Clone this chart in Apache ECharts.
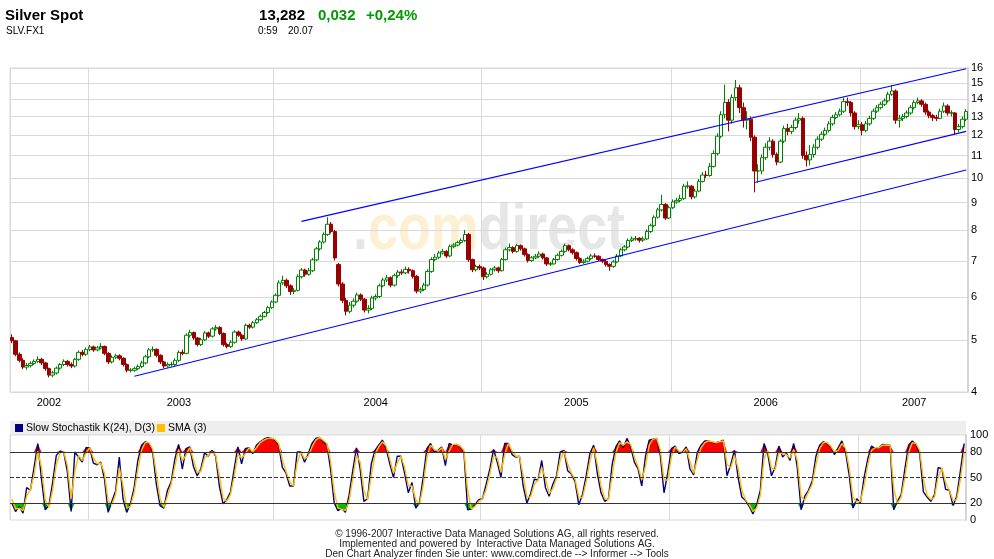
<!DOCTYPE html>
<html><head><meta charset="utf-8">
<script src="https://cdn.jsdelivr.net/npm/echarts@6/dist/echarts.min.js"></script>
<style>html,body{margin:0;padding:0;background:#fff}#c{width:994px;height:559px}</style>
</head><body><div id="c"></div><script>
// ---------- data ----------
const years = [2002, 2003, 2004, 2005, 2006, 2007];
const weeksPerYear = [21, 50, 56, 51, 51, 29];
const priceTicks = [4, 5, 6, 7, 8, 9, 10, 11, 12, 13, 14, 15, 16];
const stochTicks = [0, 20, 50, 80, 100];
const stochLevels = [20, 50, 80];

const opens = [
5.05,4.98,4.70,4.58,4.45,4.48,4.52,4.56,4.60,4.53,
4.42,4.30,4.34,4.43,4.50,4.56,4.50,4.47,4.60,4.74,
4.70,4.80,4.85,4.79,4.83,4.86,4.72,4.55,4.64,4.67,
4.62,4.50,4.39,4.39,4.42,4.46,4.53,4.65,4.79,4.80,
4.68,4.55,4.47,4.50,4.50,4.58,4.74,4.72,5.10,5.16,
5.04,4.90,5.00,5.15,5.08,5.24,5.27,5.14,4.90,4.86,
4.95,5.17,5.10,5.02,5.32,5.28,5.38,5.45,5.53,5.62,
5.74,5.88,6.05,6.38,6.45,6.30,6.15,6.18,6.55,6.74,
6.62,6.72,7.04,7.38,7.60,7.85,8.20,7.95,6.90,6.35,
5.92,5.65,5.80,5.90,6.06,5.95,5.68,5.72,5.98,6.02,
6.30,6.46,6.52,6.32,6.58,6.68,6.66,6.76,6.72,6.56,
6.16,6.20,6.32,6.70,7.05,7.12,7.25,7.30,7.16,7.45,
7.50,7.58,7.65,7.85,7.05,6.75,6.84,6.80,6.55,6.62,
6.75,6.80,6.72,7.05,7.35,7.42,7.30,7.48,7.38,7.20,
7.02,7.10,7.15,7.22,7.10,6.92,6.92,7.05,7.18,7.30,
7.48,7.35,7.26,7.08,6.96,7.00,7.08,7.16,7.15,7.05,
7.00,6.90,6.85,6.98,7.16,7.35,7.44,7.65,7.70,7.72,
7.66,7.70,7.95,8.15,8.45,8.72,8.92,8.42,8.80,9.02,
9.08,9.15,9.65,9.65,9.22,9.45,9.85,10.12,10.10,10.50,
11.10,11.95,13.10,13.80,12.80,14.10,14.70,13.50,12.80,12.85,
11.90,10.30,10.30,10.90,11.40,11.70,11.05,10.70,11.70,12.35,
12.20,12.40,12.80,12.90,11.00,10.80,11.05,11.40,11.80,12.05,
12.25,12.60,12.95,13.10,13.30,13.85,13.80,13.20,12.45,12.55,
12.25,12.60,12.90,13.30,13.50,13.70,13.90,14.30,14.50,12.80,
12.90,13.00,13.20,13.50,13.80,13.90,13.70,13.25,13.05,12.95,
12.90,13.30,13.60,13.20,13.20,12.30,12.45,12.85];

const closes = [
4.98,4.70,4.58,4.45,4.48,4.52,4.56,4.60,4.53,4.42,
4.30,4.34,4.43,4.50,4.56,4.50,4.47,4.60,4.74,4.70,
4.80,4.85,4.79,4.83,4.86,4.72,4.55,4.64,4.67,4.62,
4.50,4.39,4.39,4.42,4.46,4.53,4.65,4.79,4.80,4.68,
4.55,4.47,4.50,4.50,4.58,4.74,4.72,5.10,5.16,5.04,
4.90,5.00,5.15,5.08,5.24,5.27,5.14,4.90,4.86,4.95,
5.17,5.10,5.02,5.32,5.28,5.38,5.45,5.53,5.62,5.74,
5.88,6.05,6.38,6.45,6.30,6.15,6.18,6.55,6.74,6.62,
6.72,7.04,7.38,7.60,7.85,8.20,7.95,7.10,6.35,5.92,
5.65,5.80,5.90,6.06,5.95,5.68,5.72,5.98,6.02,6.30,
6.46,6.52,6.32,6.58,6.68,6.66,6.76,6.72,6.56,6.16,
6.20,6.32,6.70,7.05,7.12,7.25,7.30,7.16,7.45,7.50,
7.58,7.65,7.85,7.05,6.75,6.84,6.80,6.55,6.62,6.75,
6.80,6.72,7.05,7.35,7.42,7.30,7.48,7.38,7.20,7.02,
7.10,7.15,7.22,7.10,6.92,6.92,7.05,7.18,7.30,7.48,
7.35,7.26,7.08,6.96,7.00,7.08,7.16,7.15,7.05,7.00,
6.90,6.85,6.98,7.16,7.35,7.44,7.65,7.70,7.72,7.66,
7.70,7.95,8.15,8.45,8.72,8.92,8.42,8.80,9.02,9.08,
9.15,9.65,9.65,9.22,9.45,9.85,10.12,10.10,10.50,11.10,
11.95,13.10,13.80,12.80,14.10,14.70,13.50,12.80,12.85,11.90,
10.30,10.30,10.90,11.40,11.70,11.05,10.70,11.70,12.35,12.20,
12.40,12.80,12.90,11.00,10.80,11.05,11.40,11.80,12.05,12.25,
12.60,12.95,13.10,13.30,13.85,13.80,13.20,12.45,12.55,12.25,
12.60,12.90,13.30,13.50,13.70,13.90,14.30,14.50,12.80,12.90,
13.00,13.20,13.50,13.80,13.90,13.70,13.25,13.05,12.95,12.90,
13.30,13.60,13.20,13.20,12.30,12.45,12.85,13.28];

const highs = [
5.12,5.00,4.74,4.62,4.53,4.56,4.60,4.66,4.63,4.55,
4.44,4.38,4.46,4.53,4.60,4.59,4.54,4.63,4.78,4.79,
4.84,4.89,4.88,4.87,4.93,4.88,4.74,4.68,4.71,4.70,
4.64,4.52,4.43,4.46,4.50,4.57,4.69,4.83,4.86,4.82,
4.70,4.57,4.54,4.55,4.62,4.78,4.80,5.14,5.22,5.18,
5.06,5.04,5.19,5.18,5.28,5.33,5.30,5.16,4.94,4.99,
5.21,5.20,5.13,5.36,5.36,5.42,5.49,5.57,5.66,5.78,
5.92,6.10,6.45,6.58,6.50,6.34,6.24,6.62,6.80,6.78,
6.80,7.10,7.44,7.66,7.92,8.45,8.28,8.00,6.95,6.40,
5.98,5.88,5.97,6.12,6.10,5.98,5.80,6.04,6.08,6.36,
6.52,6.60,6.56,6.64,6.74,6.76,6.84,6.82,6.76,6.60,
6.26,6.38,6.76,7.12,7.22,7.32,7.38,7.34,7.52,7.56,
7.64,7.72,8.00,7.90,7.08,6.90,6.90,6.84,6.68,6.80,
6.86,6.84,7.10,7.42,7.55,7.46,7.54,7.52,7.42,7.24,
7.16,7.22,7.30,7.26,7.13,6.98,7.10,7.24,7.36,7.55,
7.52,7.40,7.30,7.12,7.06,7.14,7.22,7.24,7.18,7.08,
7.04,6.94,7.04,7.22,7.40,7.50,7.72,7.78,7.80,7.76,
7.78,8.02,8.22,8.52,8.80,9.30,8.98,8.88,9.12,9.18,
9.30,9.75,9.85,9.70,9.55,9.95,10.25,10.30,10.65,11.25,
12.10,13.30,14.90,14.00,14.30,15.20,14.90,13.80,13.30,13.00,
12.00,10.60,11.05,11.60,11.90,11.80,11.15,11.80,12.50,12.60,
12.55,12.95,13.20,13.00,11.20,11.50,11.55,11.95,12.20,12.40,
12.75,13.10,13.25,13.45,14.10,14.10,13.90,13.30,12.80,12.70,
12.75,13.05,13.45,13.65,13.85,14.05,14.45,14.85,14.60,13.10,
13.15,13.35,13.65,13.95,14.10,14.00,13.80,13.35,13.15,13.10,
13.45,13.80,13.70,13.35,13.25,12.60,13.00,13.42];

const lows = [
4.93,4.66,4.54,4.41,4.40,4.44,4.49,4.53,4.49,4.38,
4.26,4.26,4.31,4.40,4.47,4.46,4.43,4.44,4.57,4.66,
4.67,4.76,4.75,4.76,4.80,4.68,4.51,4.52,4.61,4.58,
4.46,4.35,4.35,4.36,4.39,4.43,4.50,4.62,4.75,4.64,
4.51,4.43,4.44,4.46,4.47,4.55,4.68,4.70,5.05,5.00,
4.86,4.87,4.97,5.04,5.05,5.20,5.10,4.86,4.82,4.83,
4.92,5.06,4.98,5.00,5.24,5.25,5.35,5.42,5.50,5.59,
5.71,5.85,6.02,6.32,6.24,6.06,6.08,6.15,6.50,6.55,
6.58,6.68,7.00,7.33,7.55,7.80,7.88,7.02,6.28,5.85,
5.55,5.60,5.74,5.86,5.90,5.62,5.60,5.68,5.92,5.98,
6.26,6.40,6.26,6.28,6.52,6.60,6.62,6.64,6.50,6.10,
6.10,6.16,6.28,6.66,7.00,7.06,7.20,7.10,7.12,7.40,
7.46,7.54,7.60,6.98,6.68,6.70,6.74,6.46,6.50,6.58,
6.70,6.66,6.70,7.02,7.30,7.24,7.26,7.32,7.14,6.96,
6.98,7.06,7.10,7.05,6.86,6.86,6.90,7.02,7.14,7.26,
7.30,7.20,7.02,6.92,6.92,6.96,7.04,7.10,7.00,6.94,
6.84,6.72,6.80,6.94,7.12,7.30,7.40,7.60,7.64,7.58,
7.60,7.66,7.90,8.10,8.40,8.66,8.35,8.38,8.75,8.95,
9.00,9.10,9.55,9.12,9.15,9.40,9.80,10.00,10.05,10.45,
11.00,11.85,12.90,12.20,12.60,13.90,13.20,12.40,12.30,11.70,
9.40,9.80,10.15,10.80,11.25,10.90,10.55,10.65,11.60,12.00,
12.05,12.30,12.60,10.85,10.50,10.55,10.90,11.30,11.70,11.95,
12.15,12.50,12.85,13.00,13.20,13.60,13.00,12.30,12.30,12.00,
12.15,12.50,12.80,13.20,13.40,13.60,13.80,14.20,12.60,12.40,
12.75,12.90,13.10,13.40,13.70,13.55,13.10,12.90,12.75,12.75,
12.85,13.20,13.05,13.00,12.05,12.15,12.35,12.75];

const stochK = [
20,10,16,8,38,35,62,90,48,12,
17,44,76,81,80,56,10,80,74,68,
85,85,67,65,68,48,9,22,34,74,
25,9,19,38,70,88,92,90,80,42,
17,14,35,45,72,89,60,84,86,63,
52,60,79,75,82,75,40,19,24,33,
60,86,66,84,85,78,88,92,95,97,
96,94,88,62,55,40,40,80,80,68,
78,90,96,97,92,89,60,20,11,14,
9,29,58,85,60,22,25,66,82,88,
94,84,66,50,75,75,55,32,44,14,
20,50,84,90,80,82,86,64,90,88,
89,86,80,12,13,18,24,25,42,60,
83,68,50,90,90,77,74,75,40,20,
31,48,47,70,38,28,42,52,80,82,
58,54,45,18,30,52,78,88,55,32,
22,25,65,86,93,85,96,86,68,60,
40,75,94,95,96,76,32,55,84,87,
78,80,86,60,53,80,88,93,93,91,
91,92,94,52,65,82,50,27,23,16,
7,18,35,90,78,52,62,87,74,79,
70,90,60,12,28,35,46,75,88,92,
90,86,77,85,93,80,52,14,25,20,
50,72,87,84,85,89,88,88,12,22,
30,60,88,93,89,78,33,27,22,30,
62,60,36,35,17,28,58,90];

const stochD = [
25,13,14,11,28,36,53,81,62,24,
15,35,65,79,80,64,25,57,76,70,
79,85,73,66,67,55,22,18,30,61,
41,14,16,32,59,82,91,91,83,55,
25,15,28,42,63,83,70,76,85,71,
56,57,73,76,80,77,52,26,22,30,
51,77,73,78,85,80,85,91,94,96,
96,95,90,71,57,45,40,67,80,72,
75,86,94,97,94,90,70,33,14,13,
11,22,48,76,68,35,24,52,77,86,
92,87,72,55,67,75,62,40,40,24,
18,40,73,88,83,81,85,71,81,89,
89,87,82,35,13,16,22,25,36,54,
75,73,56,77,90,81,75,75,52,27,
27,42,47,62,49,31,37,49,71,81,
66,55,48,27,26,45,69,85,66,40,
25,24,52,79,91,88,92,89,74,63,
47,63,88,95,96,83,47,47,74,86,
81,79,84,69,55,71,85,91,93,92,
91,92,93,66,61,76,61,35,24,18,
10,14,29,72,82,61,59,79,78,77,
73,83,70,28,23,33,42,65,84,91,
91,87,80,82,90,84,61,27,21,22,
40,65,82,85,85,88,88,88,37,19,
27,50,79,91,90,82,48,29,24,27,
51,61,44,35,23,24,48,79];

// trend lines: start index, start price, end index, end price
const trendStartIdx = [33, 78, 200];
const trendStartPrice = [4.28, 8.30, 9.80];
const trendEndIdx = [257, 257, 257];
const trendEndPrice = [10.34, 15.95, 12.20];

// ---------- build ----------
const FONT = '"Liberation Sans", Arial, sans-serif';
const lg = Math.log10;
const categories = [];
const yearStart = new Set();
const yearLabel = new Set();
years.forEach((y, k) => {
  const s = categories.length;
  yearStart.add(s);
  yearLabel.add(s + Math.floor((weeksPerYear[k] - 1) / 2));
  for (let w = 1; w <= weeksPerYear[k]; w++) categories.push(y + '-' + w);
});
const candleData = opens.map((o, i) => [lg(o), lg(closes[i]), lg(lows[i]), lg(highs[i])]);
const logTicks = priceTicks.map(lg);

const gridLine = { color: '#d9d9d9', width: 1 };
const trendSeries = trendStartIdx.map((s, k) => ({
  type: 'line', xAxisIndex: 0, yAxisIndex: 0, symbol: 'none', silent: true, z: 5,
  lineStyle: { color: '#0000ff', width: 1.1 },
  data: [[s, lg(trendStartPrice[k])], [trendEndIdx[k], lg(trendEndPrice[k])]]
}));

const option = {
  animation: false,
  backgroundColor: '#ffffff',
  grid: [
    { left: 10, right: 26, top: 68, height: 324, show: true, borderColor: '#d9d9d9', borderWidth: 1 },
    { left: 10, right: 28, top: 435, height: 85, show: true, borderColor: '#d9d9d9', borderWidth: 1 }
  ],
  xAxis: [
    { type: 'category', gridIndex: 0, data: categories, boundaryGap: true,
      axisLine: { show: false }, axisTick: { show: false },
      axisLabel: { interval: (i) => yearLabel.has(i), formatter: (v) => v.split('-')[0],
        color: '#000', fontSize: 11, fontFamily: FONT, margin: 5 },
      splitLine: { show: true, interval: (i) => yearStart.has(i), lineStyle: gridLine } },
    { type: 'category', gridIndex: 1, data: categories, boundaryGap: true,
      axisLine: { show: false }, axisTick: { show: false }, axisLabel: { show: false },
      splitLine: { show: true, interval: (i) => yearStart.has(i), lineStyle: gridLine } }
  ],
  yAxis: [
    { type: 'value', gridIndex: 0, position: 'right', min: lg(4), max: lg(16),
      axisLine: { show: true, lineStyle: { color: '#d4d4d4', width: 2 } },
      axisTick: { show: false, customValues: logTicks },
      axisLabel: { customValues: logTicks, formatter: (v) => String(Math.round(Math.pow(10, v))),
        color: '#000', fontSize: 11, fontFamily: FONT, margin: 3 },
      splitLine: { show: true, lineStyle: gridLine } },
    { type: 'value', gridIndex: 1, position: 'right', min: 0, max: 100,
      axisLine: { show: true, lineStyle: { color: '#d4d4d4', width: 2 } },
      axisTick: { show: false, customValues: stochTicks },
      axisLabel: { customValues: stochTicks, color: '#000', fontSize: 11, fontFamily: FONT, margin: 4 },
      splitLine: { show: false } }
  ],
  graphic: { elements: [
    { type: 'text', x: 489, y: 231, z: -10, scaleX: 0.84, silent: true,
      style: { text: '{g|.}{o|com}{g|direct}', align: 'center', verticalAlign: 'middle',
        textAlign: 'center', textVerticalAlign: 'middle',
        font: 'bold 64px ' + FONT,
        rich: { g: { fill: '#e6e6e6', color: '#e6e6e6', fontSize: 64, fontWeight: 'bold', fontFamily: FONT },
                o: { fill: '#fdefd2', color: '#fdefd2', fontSize: 64, fontWeight: 'bold', fontFamily: FONT } } } },
    { type: 'text', x: 5, y: 16, style: { text: 'Silver Spot', font: 'bold 15px ' + FONT, fill: '#000', verticalAlign: 'middle', textVerticalAlign: 'middle' } },
    { type: 'text', x: 6, y: 31.5, style: { text: 'SLV.FX1', font: '10px ' + FONT, fill: '#000', verticalAlign: 'middle', textVerticalAlign: 'middle' } },
    { type: 'text', x: 305, y: 16, style: { text: '13,282', font: 'bold 15px ' + FONT, fill: '#000', align: 'right', textAlign: 'right', verticalAlign: 'middle', textVerticalAlign: 'middle' } },
    { type: 'text', x: 318, y: 16, style: { text: '0,032', font: 'bold 15px ' + FONT, fill: '#009900', verticalAlign: 'middle', textVerticalAlign: 'middle' } },
    { type: 'text', x: 366, y: 16, style: { text: '+0,24%', font: 'bold 15px ' + FONT, fill: '#009900', verticalAlign: 'middle', textVerticalAlign: 'middle' } },
    { type: 'text', x: 258, y: 31.5, style: { text: '0:59', font: '10px ' + FONT, fill: '#000', verticalAlign: 'middle', textVerticalAlign: 'middle' } },
    { type: 'text', x: 288, y: 31.5, style: { text: '20.07', font: '10px ' + FONT, fill: '#000', verticalAlign: 'middle', textVerticalAlign: 'middle' } },
    { type: 'rect', shape: { x: 10, y: 421, width: 956, height: 14 }, style: { fill: '#eeeeee' }, z: -5, silent: true },
    { type: 'rect', shape: { x: 15, y: 424, width: 8, height: 8 }, style: { fill: '#000080' } },
    { type: 'text', x: 26, y: 428.5, style: { text: 'Slow Stochastik K(24), D(3)', font: '10.5px ' + FONT, fill: '#000', verticalAlign: 'middle', textVerticalAlign: 'middle' } },
    { type: 'rect', shape: { x: 157, y: 424, width: 8, height: 8 }, style: { fill: '#ffc000' } },
    { type: 'text', x: 168, y: 428.5, style: { text: 'SMA (3)', font: '10.5px ' + FONT, fill: '#000', verticalAlign: 'middle', textVerticalAlign: 'middle' } },
    { type: 'text', x: 497, y: 534.5, style: { text: '\u00a9 1996-2007 Interactive Data Managed Solutions AG, all rights reserved.', font: '10px ' + FONT, fill: '#222', align: 'center', textAlign: 'center', verticalAlign: 'middle', textVerticalAlign: 'middle' } },
    { type: 'text', x: 497, y: 544.5, style: { text: 'Implemented and powered by  Interactive Data Managed Solutions AG.', font: '10px ' + FONT, fill: '#222', align: 'center', textAlign: 'center', verticalAlign: 'middle', textVerticalAlign: 'middle' } },
    { type: 'text', x: 497, y: 554.5, style: { text: 'Den Chart Analyzer finden Sie unter: www.comdirect.de --> Informer --> Tools', font: '10px ' + FONT, fill: '#222', align: 'center', textAlign: 'center', verticalAlign: 'middle', textVerticalAlign: 'middle' } }
  ] },
  series: [
    { type: 'candlestick', xAxisIndex: 0, yAxisIndex: 0, data: candleData, barWidth: 4, z: 3,
      itemStyle: { color: '#ffffff', color0: '#990000', borderColor: '#008000', borderColor0: '#990000', borderWidth: 1 } },
    ...trendSeries,
    { type: 'line', xAxisIndex: 1, yAxisIndex: 1, stack: 'hi', symbol: 'none', silent: true,
      lineStyle: { opacity: 0 }, data: stochK.map(() => 80) },
    { type: 'line', xAxisIndex: 1, yAxisIndex: 1, stack: 'hi', symbol: 'none', silent: true,
      lineStyle: { opacity: 0 }, areaStyle: { color: '#ff0000', opacity: 1 },
      data: stochK.map((v) => Math.max(v, 80) - 80) },
    { type: 'line', xAxisIndex: 1, yAxisIndex: 1, stack: 'lo', symbol: 'none', silent: true,
      lineStyle: { opacity: 0 }, data: stochK.map((v) => Math.min(v, 20)) },
    { type: 'line', xAxisIndex: 1, yAxisIndex: 1, stack: 'lo', symbol: 'none', silent: true,
      lineStyle: { opacity: 0 }, areaStyle: { color: '#00c000', opacity: 1 },
      data: stochK.map((v) => 20 - Math.min(v, 20)) },
    { type: 'line', xAxisIndex: 1, yAxisIndex: 1, symbol: 'none', silent: true,
      lineStyle: { color: '#000080', width: 1.4 }, data: stochK },
    { type: 'line', xAxisIndex: 1, yAxisIndex: 1, symbol: 'none', silent: true,
      lineStyle: { color: '#ffc000', width: 1.4 }, data: stochD,
      markLine: { silent: true, symbol: 'none', label: { show: false },
        lineStyle: { color: '#333333', width: 1, type: 'solid' },
        data: stochLevels.map((v) => ({ yAxis: v, lineStyle: { type: v === 50 ? 'dashed' : 'solid' } })) } }
  ]
};
echarts.init(document.getElementById('c'), null, { renderer: 'canvas' }).setOption(option);
</script></body></html>
